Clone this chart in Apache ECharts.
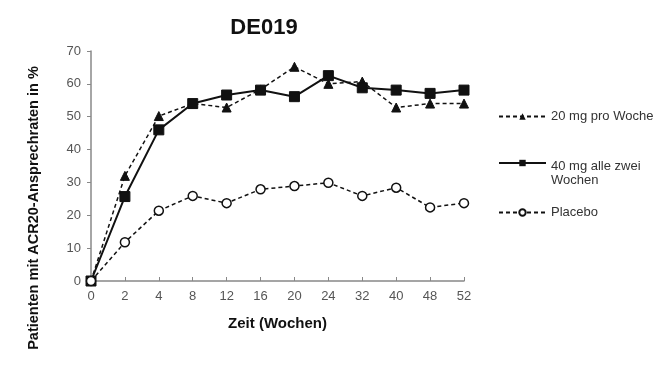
<!DOCTYPE html>
<html>
<head>
<meta charset="utf-8">
<script src="https://cdn.jsdelivr.net/npm/echarts@6/dist/echarts.min.js"></script>
<style>html,body{margin:0;padding:0;background:#fff}#c{width:667px;height:370px}</style>
</head>
<body>
<div id="c"></div>
<script>
var weeks = ['0','2','4','8','12','16','20','24','32','40','48','52'];
var yTicks = [0,10,20,30,40,50,60,70];
var s20mg = [0, 32, 50.2, 54, 52.8, 58.3, 65.2, 60, 60.7, 52.8, 54, 54];
var s40mg = [0, 25.7, 46, 54, 56.6, 58.1, 56.1, 62.5, 58.8, 58.1, 57.1, 58.1];
var sPlacebo = [0, 11.8, 21.4, 25.9, 23.7, 27.9, 28.9, 29.9, 25.9, 28.4, 22.4, 23.7];
var names = ['20 mg pro Woche', '40 mg alle zwei Wochen', 'Placebo'];

var chart = echarts.init(document.getElementById('c'));
var font = 'Liberation Sans, Arial, sans-serif';
function leg(name, top, extra) {
  return Object.assign({
    data: [name], orient: 'vertical', left: 498, top: top, padding: 0,
    itemWidth: 47, itemHeight: 8, itemGap: 0,
    textStyle: {fontFamily: font, fontSize: 13, color: '#333'},
    selectedMode: false
  }, extra || {});
}
chart.setOption({
  animation: false,
  title: {text: 'DE019', left: 259, top: 12, textAlign: 'center',
    textStyle: {fontFamily: font, fontSize: 22, fontWeight: 'bold', color: '#111'}},
  legend: [
    leg(names[0], 110),
    leg(names[1], 139, {
      formatter: function () { return '{p|}\n{t|40 mg alle zwei}\n{t|Wochen}'; },
      textStyle: {fontFamily: font, fontSize: 13, color: '#333',
        rich: {p: {height: 20, lineHeight: 20}, t: {fontFamily: font, fontSize: 13, color: '#333', lineHeight: 14}}}
    }),
    leg(names[2], 206)
  ],
  grid: {left: 91, right: 203, top: 51, bottom: 89},
  xAxis: {
    type: 'category', data: weeks, boundaryGap: false,
    name: 'Zeit (Wochen)', nameLocation: 'middle', nameGap: 35,
    nameTextStyle: {fontFamily: font, fontSize: 15, fontWeight: 'bold', color: '#111'},
    axisLine: {lineStyle: {color: '#888', width: 1.5}},
    axisTick: {inside: true, length: 4, alignWithLabel: true, lineStyle: {color: '#888'}},
    axisLabel: {fontFamily: font, fontSize: 13, color: '#555', margin: 9, interval: 0}
  },
  yAxis: {
    type: 'value', min: 0, max: 70, interval: 10,
    name: 'Patienten mit ACR20-Ansprechraten in %', nameLocation: 'middle', nameGap: 50,
    nameTextStyle: {fontFamily: font, fontSize: 14.5, fontWeight: 'bold', color: '#111', padding: [0, 84, 0, 0]},
    axisLine: {show: true, lineStyle: {color: '#888', width: 1.5}},
    axisTick: {show: true, length: 4, lineStyle: {color: '#888'}},
    splitLine: {show: false},
    axisLabel: {fontFamily: font, fontSize: 13, color: '#555', margin: 10,
      formatter: function (v) { return yTicks.indexOf(v) >= 0 ? String(v) : ''; }}
  },
  series: [
    {name: names[0], type: 'line', data: s20mg, symbol: 'triangle', symbolSize: 9,
      lineStyle: {color: '#111', width: 1.5, type: [4, 3]},
      itemStyle: {color: '#111', borderColor: '#111'}, z: 3},
    {name: names[1], type: 'line', data: s40mg, symbol: 'rect', symbolSize: 10,
      lineStyle: {color: '#111', width: 2, type: 'solid'},
      itemStyle: {color: '#111', borderColor: '#111'}, z: 4},
    {name: names[2], type: 'line', data: sPlacebo, symbol: 'circle', symbolSize: 9,
      lineStyle: {color: '#111', width: 1.5, type: [4, 3]},
      itemStyle: {color: '#fff', borderColor: '#111', borderWidth: 1.5}, z: 5}
  ]
});
</script>
</body>
</html>
